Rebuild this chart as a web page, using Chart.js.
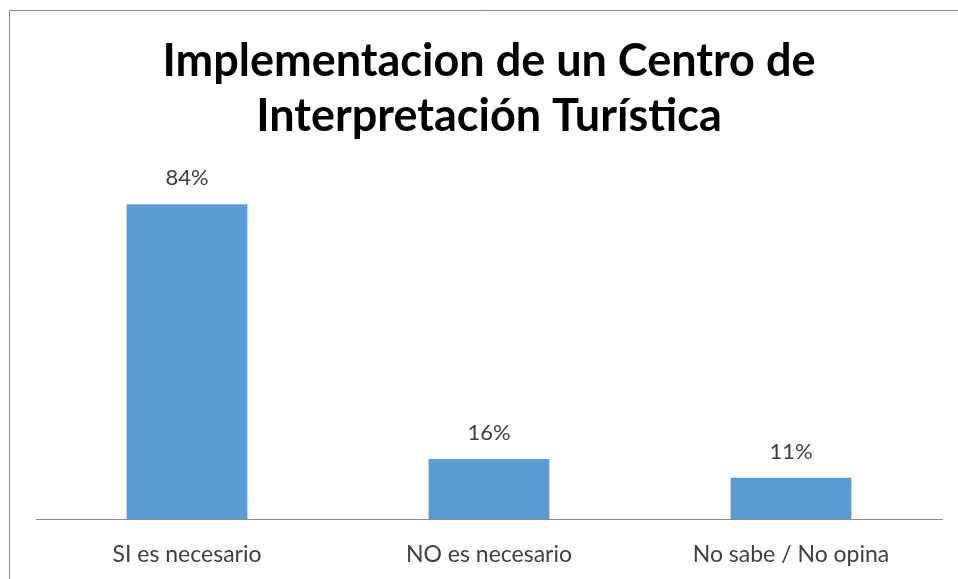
<!DOCTYPE html>
<html>
<head>
<meta charset="utf-8">
<script src="https://cdn.jsdelivr.net/npm/chart.js@4"></script>
<style>
  html, body { margin: 0; padding: 0; background: #fff; }
  #wrap { width: 958px; height: 579px; position: relative; }
</style>
</head>
<body>
<div id="wrap"><canvas id="grafico" width="958" height="579"></canvas></div>
<script>
// Dati
const categorie = ["SI es necesario", "NO es necesario", "No sabe / No opina"];
const valori = [84, 16, 11];
const titolo = ["Implementacion de un Centro de", "Interpretación Turística"];

const fontBase = "Lato, 'Open Sans', sans-serif";

// Cornice grigia attorno al grafico (tagliata a destra e in basso)
const cornice = {
  id: 'cornice',
  beforeDraw(chart) {
    const ctx = chart.ctx;
    ctx.save();
    ctx.strokeStyle = '#8c8c8c';
    ctx.lineWidth = 1;
    ctx.beginPath();
    ctx.moveTo(9.5, 579);
    ctx.lineTo(9.5, 10.5);
    ctx.lineTo(958, 10.5);
    ctx.stroke();
    ctx.restore();
  }
};

// Etichette percentuali sopra le barre
const etichette = {
  id: 'etichette',
  afterDatasetsDraw(chart) {
    const ctx = chart.ctx;
    const meta = chart.getDatasetMeta(0);
    ctx.save();
    ctx.fillStyle = '#404040';
    ctx.font = "22px " + fontBase;
    ctx.textAlign = 'center';
    ctx.textBaseline = 'bottom';
    meta.data.forEach((bar, i) => {
      ctx.fillText(valori[i] + '%', bar.x, bar.y - 15);
    });
    ctx.restore();
  }
};

new Chart(document.getElementById('grafico'), {
  type: 'bar',
  data: {
    labels: categorie,
    datasets: [{
      data: valori,
      backgroundColor: '#5b9bd5',
      barPercentage: 1,
      categoryPercentage: 0.4
    }]
  },
  options: {
    responsive: false,
    animation: false,
    layout: { padding: { left: 36, right: 16, top: 14, bottom: 0 } },
    plugins: {
      legend: { display: false },
      tooltip: { enabled: false },
      title: {
        display: true,
        text: titolo,
        color: '#000',
        font: { family: fontBase, size: 45, weight: 'bold', lineHeight: 1.22 },
        padding: { top: 20, bottom: 38 }
      }
    },
    scales: {
      x: {
        grid: { display: false },
        border: { display: true, color: '#8c8c8c', width: 1 },
        ticks: { color: '#404040', font: { family: fontBase, size: 23 }, padding: 14 },
        afterFit(scale) { scale.height = 60; }
      },
      y: {
        display: false,
        min: 0,
        max: 90
      }
    }
  },
  plugins: [cornice, etichette]
});
</script>
</body>
</html>
